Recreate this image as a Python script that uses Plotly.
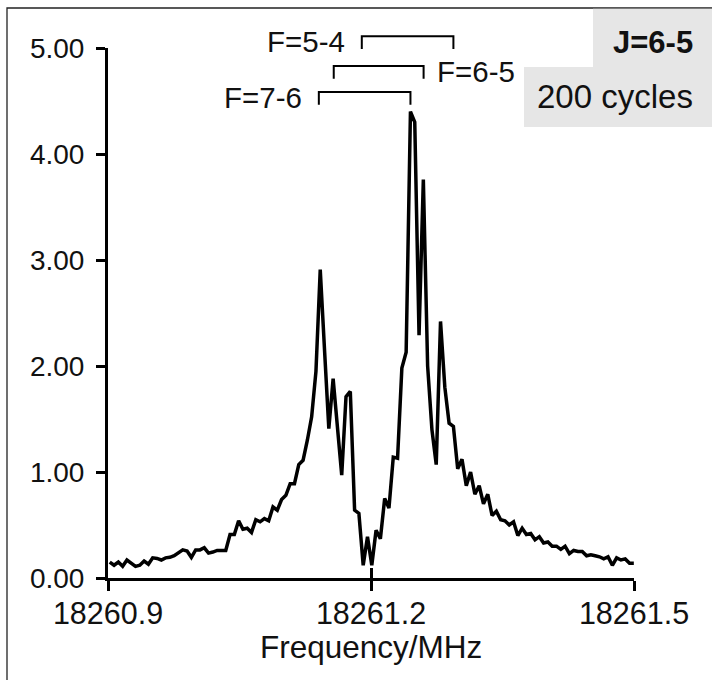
import plotly.graph_objects as go

# ---------------- data ----------------
F_START = 18260.902      # MHz, first sample
F_STEP = 0.0049          # MHz, sample spacing
intensity = [
    0.15, 0.12, 0.15, 0.11, 0.17, 0.14, 0.11, 0.12, 0.16, 0.13,
    0.19, 0.185, 0.17, 0.19, 0.195, 0.21, 0.235, 0.265, 0.255, 0.195,
    0.265, 0.265, 0.285, 0.235, 0.245, 0.26, 0.26, 0.26, 0.41, 0.41,
    0.54, 0.46, 0.47, 0.43, 0.55, 0.53, 0.56, 0.54, 0.67, 0.64,
    0.74, 0.78, 0.89, 0.89, 1.07, 1.11, 1.30, 1.52, 1.95, 2.91,
    2.15, 1.41, 1.88, 1.40, 0.97, 1.71, 1.76, 0.64, 0.61, 0.12,
    0.39, 0.12, 0.45, 0.37, 0.75, 0.66, 1.14, 1.13, 1.98, 2.13,
    4.40, 4.30, 2.29, 3.76, 2.00, 1.40, 1.07, 2.42, 1.80, 1.46,
    1.43, 1.03, 1.12, 0.87, 1.00, 0.79, 0.87, 0.70, 0.79, 0.59,
    0.63, 0.55, 0.54, 0.50, 0.53, 0.40, 0.47, 0.41, 0.42, 0.36,
    0.39, 0.33, 0.34, 0.30, 0.30, 0.27, 0.30, 0.23, 0.26, 0.25,
    0.25, 0.21, 0.22, 0.21, 0.20, 0.18, 0.20, 0.12, 0.19, 0.17,
    0.18, 0.14, 0.14,
]
freq = [round(F_START + i * F_STEP, 5) for i in range(len(intensity))]

X_RANGE = [18260.9, 18261.5]
X_TICKS = [18260.9, 18261.2, 18261.5]
X_TICK_LABELS = ["18260.9", "18261.2", "18261.5"]
Y_RANGE = [0, 5]
Y_TICKS = [0, 1, 2, 3, 4, 5]
Y_TICK_LABELS = ["0.00", "1.00", "2.00", "3.00", "4.00", "5.00"]

# hyperfine doublet brackets
BRACKET_LABELS = ["F=7-6", "F=6-5", "F=5-4"]
BRACKET_LO = [18261.1405, 18261.1575, 18261.1895]
BRACKET_HI = [18261.2450, 18261.2600, 18261.2940]
BRACKET_LEVEL = [4.585, 4.83, 5.11]
BRACKET_SIDE = ["left", "right", "left"]
BRACKET_DROP = 0.12

TITLE_J = "J=6-5"
TITLE_CYCLES = "200 cycles"
X_TITLE = "Frequency/MHz"

# ---------------- layout helpers ----------------
W, H = 712, 680
ML, MR, MT, MB = 108, 78, 48, 102
PW, PH = W - ML - MR, H - MT - MB
FONT = "Liberation Sans, Arial, sans-serif"
INK = "#111111"
GREY = "#e6e6e6"


def px_x(px):
    return (px - ML) / PW


def px_y(py):
    return (H - MB - py) / PH


def dx(f):
    return (f - X_RANGE[0]) / (X_RANGE[1] - X_RANGE[0])


def dy(v):
    return (v - Y_RANGE[0]) / (Y_RANGE[1] - Y_RANGE[0])


fig = go.Figure()
fig.add_trace(go.Scatter(
    x=freq, y=intensity, mode="lines",
    line=dict(color="#000000", width=3.5),
    hoverinfo="skip", showlegend=False,
))
# invisible trace to carry the inner tick marks (crossing ticks)
fig.add_trace(go.Scatter(
    x=X_RANGE, y=[None, None], xaxis="x2", mode="lines",
    hoverinfo="skip", showlegend=False,
))

shapes = []
annotations = []

# outer frame
shapes.append(dict(type="rect", xref="paper", yref="paper",
                   x0=px_x(7), x1=px_x(720), y0=px_y(690), y1=px_y(8),
                   line=dict(color="#222222", width=1.3), fillcolor="rgba(0,0,0,0)",
                   layer="below"))
# grey label boxes
shapes.append(dict(type="rect", xref="paper", yref="paper",
                   x0=px_x(593), x1=px_x(720), y0=px_y(67), y1=px_y(8.7),
                   line=dict(width=0), fillcolor=GREY, layer="below"))
shapes.append(dict(type="rect", xref="paper", yref="paper",
                   x0=px_x(524), x1=px_x(720), y0=px_y(127), y1=px_y(67),
                   line=dict(width=0), fillcolor=GREY, layer="below"))
annotations.append(dict(xref="paper", yref="paper", x=px_x(695), y=px_y(43),
                        text="<b>" + TITLE_J + "</b>", showarrow=False,
                        xanchor="right", yanchor="middle",
                        font=dict(family=FONT, size=31, color=INK)))
annotations.append(dict(xref="paper", yref="paper", x=px_x(695), y=px_y(97),
                        text=TITLE_CYCLES, showarrow=False,
                        xanchor="right", yanchor="middle",
                        font=dict(family=FONT, size=33, color=INK)))
# x-axis title
annotations.append(dict(xref="paper", yref="paper", x=0.5, y=px_y(647),
                        text=X_TITLE, showarrow=False,
                        xanchor="center", yanchor="middle",
                        font=dict(family=FONT, size=31.5, color=INK)))

for lab, lo, hi, lev, side in zip(BRACKET_LABELS, BRACKET_LO, BRACKET_HI,
                                  BRACKET_LEVEL, BRACKET_SIDE):
    x0, x1 = dx(lo), dx(hi)
    yt, yb = dy(lev), dy(lev - BRACKET_DROP)
    shapes.append(dict(type="path", xref="paper", yref="paper",
                       path=f"M {x0} {yb} L {x0} {yt} L {x1} {yt} L {x1} {yb}",
                       line=dict(color="#000000", width=2)))
    if side == "left":
        annotations.append(dict(xref="paper", yref="paper", x=x0, y=dy(lev - 0.05),
                                text=lab, showarrow=False, xanchor="right",
                                yanchor="middle", xshift=-15,
                                font=dict(family=FONT, size=29.5, color=INK)))
    else:
        annotations.append(dict(xref="paper", yref="paper", x=x1, y=dy(lev - 0.05),
                                text=lab, showarrow=False, xanchor="left",
                                yanchor="middle", xshift=11,
                                font=dict(family=FONT, size=29.5, color=INK)))

fig.update_layout(
    width=W, height=H,
    margin=dict(l=ML, r=MR, t=MT, b=MB, pad=0),
    paper_bgcolor="white", plot_bgcolor="white",
    font=dict(family=FONT, size=28, color=INK),
    shapes=shapes, annotations=annotations,
    xaxis=dict(
        range=X_RANGE, tickvals=X_TICKS, ticktext=X_TICK_LABELS,
        showline=True, linecolor="#000000", linewidth=3,
        ticks="outside", ticklen=10, tickwidth=3, tickcolor="#000000",
        showgrid=False, zeroline=False, ticklabelstandoff=-4,
        tickfont=dict(family=FONT, size=30.5, color=INK),
    ),
    xaxis2=dict(
        range=X_RANGE, overlaying="x", anchor="y", side="bottom",
        tickvals=X_TICKS, showticklabels=False,
        ticks="inside", ticklen=10, tickwidth=3, tickcolor="#000000",
        showline=False, showgrid=False, zeroline=False,
    ),
    yaxis=dict(
        range=Y_RANGE, tickvals=Y_TICKS, ticktext=Y_TICK_LABELS,
        showline=True, linecolor="#000000", linewidth=3,
        ticks="outside", ticklen=9, tickwidth=3, tickcolor="#000000",
        showgrid=False, zeroline=False, ticklabelstandoff=6,
        tickfont=dict(family=FONT, size=28, color=INK),
    ),
)

fig.write_html("out.html")
